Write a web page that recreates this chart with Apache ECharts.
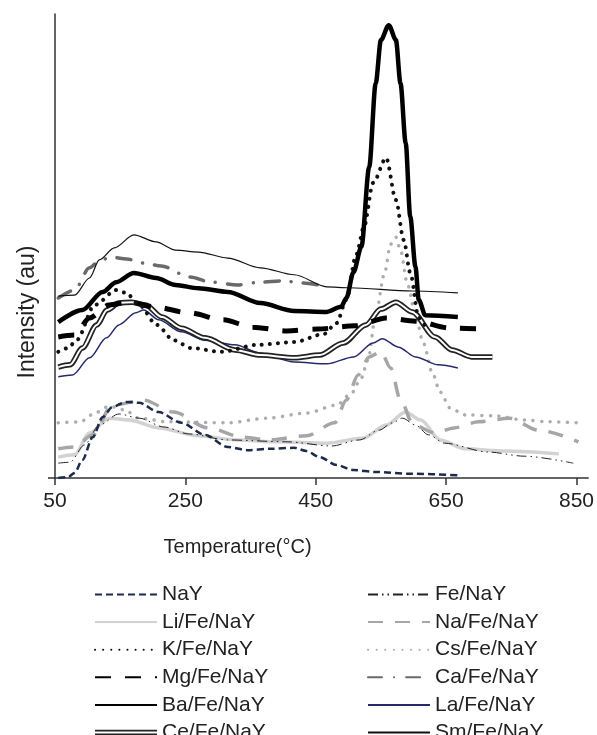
<!DOCTYPE html>
<html>
<head>
<meta charset="utf-8">
<script src="https://cdn.jsdelivr.net/npm/echarts@6/dist/echarts.min.js"></script>
<style>
  html, body { margin: 0; padding: 0; background: #fff; }
  #chart { width: 597px; height: 735px; }
</style>
</head>
<body>
<div id="chart"></div>
<script>
// temperature (°C) / intensity (au, 0-100) pairs
var nay = [[55,0],[70,0.2],[80,1.1],[92,3.9],[108,8.8],[123,13.1],[138,15.3],[159,16.4],[179,16.2],[209,14.2],[244,11.9],[280,9.3],[315,6.7],[345,6],[380,6.3],[417,6.5],[436,5.8],[456,4.5],[482,2.8],[508,1.7],[542,1.3],[598,0.9],[668,0.6]];
var feNay = [[55,3.2],[73,3.4],[95,7.1],[118,11.4],[148,13.8],[179,12.9],[217,11],[255,9.5],[315,8.2],[406,7.8],[474,6.9],[517,8.2],[547,10.3],[568,11.9],[583,12.9],[603,11.4],[623,9.3],[648,7.5],[714,5.6],[770,4.7],[845,3.2]];
var liFeNay = [[55,4.5],[80,5],[103,9.7],[133,12.9],[164,12.5],[209,10.8],[270,9.1],[330,8.2],[391,7.8],[467,7.5],[523,8.6],[558,11.4],[588,14.2],[611,12.5],[641,8.2],[679,6.3],[739,5.8],[823,5.2]];
var naFeNay = [[55,6.3],[80,6.7],[108,9.3],[138,15.7],[186,16.8],[232,14.2],[285,10.8],[338,8.8],[376,8.2],[436,9.1],[479,11.9],[497,16.8],[515,22.2],[532,26.1],[550,27.2],[565,23.7],[580,16.8],[600,11.4],[633,9.7],[662,10.8],[700,12.1],[747,12.9],[792,10.3],[853,7.8]];
var kFeNay = [[55,27.2],[70,28],[83,29.7],[111,37.3],[144,40.5],[159,39.9],[179,37.3],[206,33],[232,29.7],[259,28],[305,27.2],[361,28.7],[417,29.3],[462,31],[482,33.4],[497,38.4],[512,48.1],[524,54.1],[538,63.6],[558,69],[573,59.9],[585,51.3],[595,44.2],[608,34.5],[621,31.9]];
var csFeNay = [[55,11.9],[88,12.1],[114,14.2],[133,15.5],[156,14.7],[179,12.9],[224,12.1],[315,11.9],[376,12.9],[436,14],[482,15.7],[505,18.3],[520,21.6],[530,25.4],[542,35.1],[555,43.8],[565,50.4],[573,51.9],[580,49.1],[591,41.6],[603,35.1],[615,29.1],[629,22.6],[641,18.5],[656,15.1],[679,13.6],[724,13.4],[770,12.5],[808,12.1],[853,11.9]];
var mgFeNay = [[55,30.4],[80,30.8],[103,34.5],[133,37.3],[164,37.9],[202,36.9],[255,35.6],[308,34.1],[353,32.5],[406,31.7],[452,32.1],[511,32.8],[558,34.5],[603,33.8],[656,32.3],[714,32.1]];
var caFeNay = [[55,38.8],[80,40.5],[103,45.3],[118,46.8],[135,47.6],[160,47.2],[187,46.3],[213,45.7],[257,43.3],[290,42.2],[330,41.6],[365,42.2],[400,42.5],[430,42],[455,41.6]];
var baFeNay = [[55,33.6],[92,36.2],[123,40.1],[144,42.2],[171,44.2],[205,43.1],[235,41.6],[270,40.9],[315,40.1],[365,37.7],[417,36],[467,35.8],[489,36.9],[497,38.8],[508,44.4],[520,49.8],[532,67],[542,85.1],[550,94.4],[562,97.6],[573,94.4],[580,85.1],[588,72.2],[595,56.3],[603,45.5],[608,38.4],[618,35.1],[668,34.7]];
var laFeNay = [[55,21.8],[77,22.2],[103,25.9],[129,30.2],[148,33],[174,35.6],[186,36.2],[209,34.1],[244,31.5],[280,29.7],[326,28.7],[365,26.9],[417,25],[467,24.6],[508,26.1],[538,29.1],[552,30],[577,28.2],[603,26.1],[638,24.4],[668,23.7]];
var ceFeNay = [[55,23.9],[73,24.4],[92,28],[114,33],[130,36.2],[148,37.7],[168,37.9],[189,37.3],[214,34.7],[244,32.3],[280,30.2],[326,27.6],[365,26.5],[417,25.9],[456,26.5],[492,29.1],[527,33],[550,36.4],[573,37.9],[598,35.8],[633,30.4],[659,27.6],[689,26.1],[721,26.1]];
var smFeNay = [[55,39.2],[80,39.4],[103,43.1],[118,47],[141,49.6],[171,52.4],[205,50.9],[235,49.1],[270,48.7],[315,47.4],[365,45.3],[417,43.8],[467,41.2],[501,41],[598,40.3],[668,39.9]];

var tempTicks = [50, 250, 450, 650, 850];
var legendLeft = ['NaY', 'Li/Fe/NaY', 'K/Fe/NaY', 'Mg/Fe/NaY', 'Ba/Fe/NaY', 'Ce/Fe/NaY'];
var legendRight = ['Fe/NaY', 'Na/Fe/NaY', 'Cs/Fe/NaY', 'Ca/Fe/NaY', 'La/Fe/NaY', 'Sm/Fe/NaY'];

var font = 'Liberation Sans, Arial, sans-serif';

function line(name, data, color, width, type, cap) {
    return {
        name: name,
        type: 'line',
        data: data,
        showSymbol: false,
        symbol: 'none',
        smooth: 0.3,
        smoothMonotone: 'x',
        color: color,
        lineStyle: { color: color, width: width, type: type || 'solid', cap: cap || 'butt' },
        emphasis: { disabled: true }
    };
}

function legendData(names) {
    return names.map(function (n) {
        if (n === 'Ce/Fe/NaY') {
            // double line swatch
            return { name: n, icon: 'path://M0,0H60V1.8H0Z M0,3.6H60V5.4H0Z', itemStyle: { color: '#222', opacity: 1, borderWidth: 0 } };
        }
        return { name: n };
    });
}

var myChart = echarts.init(document.getElementById('chart'));
var legendCommon = {
    orient: 'vertical',
    top: 584,
    height: 170,
    padding: 0,
    itemWidth: 62,
    itemHeight: 12,
    itemGap: 6.6,
    selectedMode: false,
    itemStyle: { color: 'transparent', borderWidth: 0, opacity: 0 },
    textStyle: { fontSize: 21, color: '#222', fontFamily: font }
};

var option = {
    animation: false,
    backgroundColor: '#fff',
    grid: { left: 55, right: 2, top: 14, bottom: 257 },
    legend: [
        Object.assign({}, legendCommon, { left: 94, data: legendData(legendLeft) }),
        Object.assign({}, legendCommon, { left: 367, data: legendData(legendRight) })
    ],
    xAxis: {
        type: 'value',
        min: 50,
        max: 868,
        name: 'Temperature(°C)',
        nameLocation: 'middle',
        nameGap: 59,
        nameTextStyle: { fontSize: 20, color: '#222', fontFamily: font, padding: [0, 168, 0, 0] },
        axisLine: { lineStyle: { color: '#333', width: 1.5 } },
        axisTick: { show: true, length: 7, customValues: tempTicks, lineStyle: { color: '#333', width: 1.5 } },
        axisLabel: { customValues: tempTicks, fontSize: 21, color: '#222', fontFamily: font, margin: 13 },
        splitLine: { show: false }
    },
    yAxis: {
        type: 'value',
        min: 0,
        max: 100,
        name: 'Intensity (au)',
        nameLocation: 'middle',
        nameGap: 16,
        nameTextStyle: { fontSize: 23, color: '#222', fontFamily: font, padding: [0, 132, 0, 0] },
        axisLine: { show: true, lineStyle: { color: '#333', width: 1.5 } },
        axisTick: { show: true, length: 7, customValues: [0], lineStyle: { color: '#333', width: 1.5 } },
        axisLabel: { show: false },
        splitLine: { show: false }
    },
    series: [
        line('Cs/Fe/NaY', csFeNay, '#adadad', 3.5, [0.1, 8.5], 'round'),
        line('Li/Fe/NaY', liFeNay, '#d2d2d2', 3.5),
        line('Na/Fe/NaY', naFeNay, '#a6a6a6', 3.5, [15, 12]),
        line('Fe/NaY', feNay, '#222', 1, [10, 4, 1.5, 4, 1.5, 4]),
        line('NaY', nay, '#1c2b4a', 2.5, [7, 4]),
        line('La/Fe/NaY', laFeNay, '#262a6b', 1.5),
        line('Ce/Fe/NaY', ceFeNay, '#222', 5.5),
        line('Ce-inner', ceFeNay, '#fff', 2),
        line('Mg/Fe/NaY', mgFeNay, '#000', 5, [16, 14]),
        line('K/Fe/NaY', kFeNay, '#111', 4, [0.1, 8], 'round'),
        line('Ca/Fe/NaY', caFeNay, '#6a6a6a', 3.5, [14, 12, 0.1, 12], 'round'),
        line('Sm/Fe/NaY', smFeNay, '#111', 1.2),
        line('Ba/Fe/NaY', baFeNay, '#000', 4.5)
    ]
};

myChart.setOption(option);
window.onresize = myChart.resize;
</script>
</body>
</html>
